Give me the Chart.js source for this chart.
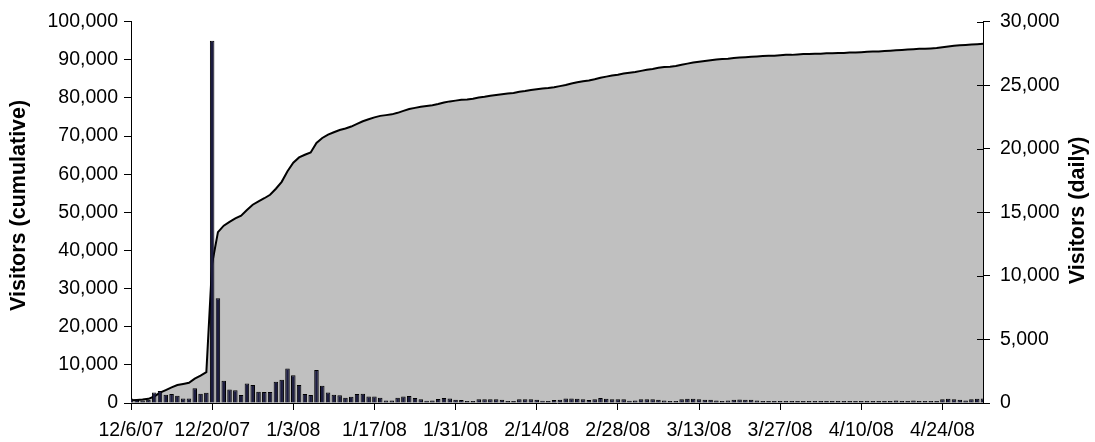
<!DOCTYPE html>
<html>
<head>
<meta charset="utf-8">
<script src="https://cdn.jsdelivr.net/npm/chart.js@4.4.1/dist/chart.umd.min.js"></script>
<style>
  html, body { margin: 0; padding: 0; background: #fff; }
  #wrap { width: 1095px; height: 442px; }
</style>
</head>
<body>
<div id="wrap"><canvas id="c" width="1095" height="442"></canvas></div>
<script>
// ---- data ----
const startDate = [2007, 11, 6]; // 12/6/07
const dayCount = 148;
const tickLabels = ['12/6/07','12/20/07','1/3/08','1/17/08','1/31/08','2/14/08','2/28/08','3/13/08','3/27/08','4/10/08','4/24/08'];
const tickEvery = 14;

const dailyVisitors = [
  350,260,200,260,830,940,650,700,570,360,
  360,1170,730,810,28500,8250,1750,1070,1000,630,
  1540,1410,890,860,860,1670,1820,2710,2190,1410,
  700,630,2600,1350,830,650,600,420,500,700,
  730,520,520,410,200,200,410,520,550,390,
  290,180,200,310,390,360,260,230,130,150,
  290,290,290,290,260,130,150,290,290,290,
  260,180,150,230,260,360,360,330,290,230,
  290,390,330,290,290,290,180,200,290,290,
  290,250,200,150,150,300,330,330,300,250,
  250,200,150,200,250,280,250,250,200,150,
  150,100,100,100,100,150,150,100,100,80,
  80,100,100,150,80,80,100,150,150,100,
  100,150,200,150,150,200,150,100,150,150,
  300,330,300,250,200,300,330,350
];

const cumulativeVisitors = [
  700,800,900,1100,1700,2700,3400,4100,4700,5000,
  5300,6400,7200,8100,36600,44800,46500,47500,48400,49100,
  50600,52000,52900,53700,54600,56200,58000,60800,63000,64400,
  65100,65700,68200,69500,70400,71000,71600,72000,72500,73200,
  73900,74400,74900,75300,75500,75700,76100,76600,77100,77400,
  77700,77900,78100,78400,78800,79100,79300,79500,79600,79800,
  80100,80300,80600,80800,81000,81200,81300,81600,81800,82100,
  82300,82500,82600,82800,83100,83400,83800,84100,84400,84600,
  84900,85300,85600,85900,86100,86400,86600,86800,87100,87400,
  87600,87900,88100,88200,88400,88700,89000,89300,89500,89700,
  89900,90100,90200,90300,90500,90600,90700,90800,90900,91000,
  91100,91100,91200,91300,91300,91400,91500,91500,91600,91600,
  91700,91700,91800,91800,91900,91900,92000,92100,92200,92200,
  92300,92400,92500,92600,92700,92800,92900,92900,93000,93100,
  93300,93500,93700,93800,93900,94000,94100,94200
];

const leftTitle = 'Visitors (cumulative)';
const rightTitle = 'Visitors (daily)';

// categories: one per day
const categories = [];
for (let i = 0; i < dayCount; i++) {
  const d = new Date(startDate[0], startDate[1], startDate[2] + i);
  categories.push((d.getMonth() + 1) + '/' + d.getDate() + '/' + String(d.getFullYear()).slice(2));
}

const FONT = '"Liberation Sans", Arial, sans-serif';

const extrasPlugin = {
  id: 'extras',
  afterDraw(chart) {
    const ctx = chart.ctx;
    const a = chart.chartArea;
    const y2 = chart.scales.y2;
    ctx.save();
    // inner half of right-axis cross tick marks
    ctx.strokeStyle = '#000';
    ctx.lineWidth = 1;
    y2.ticks.forEach(t => {
      const py = Math.round(y2.getPixelForValue(t.value)) + 0.5;
      ctx.beginPath();
      ctx.moveTo(a.right - 6, py);
      ctx.lineTo(a.right, py);
      ctx.stroke();
    });
    // axis titles (both read bottom-to-top)
    ctx.fillStyle = '#000';
    ctx.font = 'bold 21.5px ' + FONT;
    ctx.textAlign = 'center';
    ctx.textBaseline = 'middle';
    const midY = (a.top + a.bottom) / 2;
    ctx.save();
    ctx.translate(19, midY - 7);
    ctx.rotate(-Math.PI / 2);
    ctx.fillText(leftTitle, 0, 0);
    ctx.restore();
    ctx.save();
    ctx.translate(chart.width - 17, midY - 2);
    ctx.rotate(-Math.PI / 2);
    ctx.fillText(rightTitle, 0, 0);
    ctx.restore();
    ctx.restore();
  }
};

new Chart(document.getElementById('c'), {
  data: {
    labels: categories,
    datasets: [
      {
        type: 'line',
        label: 'cumulative',
        data: cumulativeVisitors,
        yAxisID: 'y',
        borderColor: '#000',
        borderWidth: 2,
        backgroundColor: '#c0c0c0',
        fill: 'origin',
        tension: 0,
        pointRadius: 0,
        order: 2
      },
      {
        type: 'bar',
        label: 'daily',
        data: dailyVisitors,
        yAxisID: 'y2',
        backgroundColor: '#1c1c40',
        borderColor: '#000',
        borderWidth: 1,
        minBarLength: 2,
        categoryPercentage: 1,
        barPercentage: 0.78,
        order: 1
      }
    ]
  },
  options: {
    responsive: false,
    devicePixelRatio: 1,
    animation: false,
    layout: { padding: { top: 20, left: 0, right: 0, bottom: 0 } },
    plugins: { legend: { display: false }, tooltip: { enabled: false } },
    scales: {
      x: {
        type: 'category',
        offset: false,
        grid: { display: true, drawOnChartArea: false, drawTicks: true, tickLength: 7, color: '#000', offset: false },
        border: { display: true, color: '#000', width: 1 },
        afterBuildTicks: (axis) => { axis.ticks = axis.ticks.filter(t => t.value % tickEvery === 0); },
        ticks: {
          autoSkip: false,
          maxRotation: 0,
          minRotation: 0,
          padding: 9,
          color: '#000',
          font: { family: FONT, size: 19.5 },
          callback: (v, i) => tickLabels[v / tickEvery]
        },
        afterFit: (s) => { s.height = 39; }
      },
      y: {
        position: 'left',
        min: 0,
        max: 100000,
        grid: { display: true, drawOnChartArea: false, drawTicks: true, tickLength: 7, color: '#000' },
        border: { display: true, color: '#000', width: 1 },
        ticks: {
          stepSize: 10000,
          padding: 6,
          color: '#000',
          font: { family: FONT, size: 19.5 },
          callback: (v) => v.toLocaleString('en-US')
        },
        afterFit: (s) => { s.width = 131; }
      },
      y2: {
        position: 'right',
        min: 0,
        max: 30000,
        grid: { display: true, drawOnChartArea: false, drawTicks: true, tickLength: 7, color: '#000' },
        border: { display: true, color: '#000', width: 1 },
        ticks: {
          stepSize: 5000,
          padding: 10,
          color: '#000',
          font: { family: FONT, size: 19.5 },
          callback: (v) => v.toLocaleString('en-US')
        },
        afterFit: (s) => { s.width = 112; }
      }
    }
  },
  plugins: [extrasPlugin]
});
</script>
</body>
</html>
